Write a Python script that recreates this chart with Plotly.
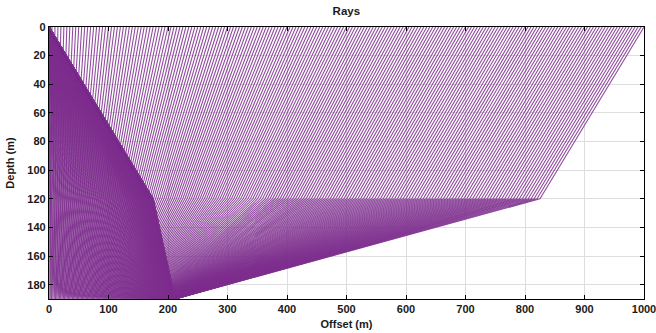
import numpy as np
import plotly.graph_objects as go

# ---- model / data ----
layer_depths = [0, 120, 190]        # surface, interface, reflector (m)
v_down = [1.0, 0.567]               # relative velocity of the downgoing leg in each layer
v_up = [1.0, 1.205]                 # relative velocity of the upgoing leg in each layer
source_x = 0.0                      # source offset (m)
receiver_x = list(range(0, 1001, 5))  # receiver offsets on the surface (m)

x_ticks = list(range(0, 1001, 100))
y_ticks = list(range(0, 181, 20))

RAY_COLOR = "#7E2F8E"

thick = np.diff(layer_depths)


def legs(p):
    dx_down = [h * (p * v) / np.sqrt(1 - (p * v) ** 2) for h, v in zip(thick, v_down)]
    dx_up = [h * (p * v) / np.sqrt(1 - (p * v) ** 2) for h, v in zip(thick[::-1], v_up[::-1])]
    return dx_down, dx_up


def total(p):
    a, b = legs(p)
    return sum(a) + sum(b)


pmax = 1.0 / max(v_down + v_up) * (1 - 1e-12)

fig = go.Figure()
for xr in receiver_x:
    target = xr - source_x
    lo, hi = 0.0, pmax
    for _ in range(100):
        mid = 0.5 * (lo + hi)
        if total(mid) < target:
            lo = mid
        else:
            hi = mid
    p = 0.5 * (lo + hi)
    dd, du = legs(p)
    xs = [source_x]
    for d in dd + du:
        xs.append(xs[-1] + d)
    zs = layer_depths + layer_depths[-2::-1]
    fig.add_trace(go.Scatter(x=xs, y=zs, mode="lines",
                             line=dict(color=RAY_COLOR, width=1.1),
                             opacity=0.85,
                             showlegend=False, hoverinfo="skip"))

font_b = dict(family="Liberation Sans, Arial, sans-serif", size=11, color="#1a1a1a", weight="bold")

fig.update_layout(
    width=656, height=333,
    margin=dict(l=49, r=12, t=27, b=34),
    paper_bgcolor="white", plot_bgcolor="white",
    title=dict(text="Rays", x=0.528, xanchor="center", y=0.966, yanchor="middle",
               font=dict(family="Liberation Sans, Arial, sans-serif", size=11.5, color="#1a1a1a", weight="bold")),
    xaxis=dict(range=[0, 1000], tickvals=x_ticks, ticks="inside", ticklen=4, tickwidth=1,
               tickcolor="black", showline=True, linecolor="black", linewidth=1.3, mirror="ticks",
               showgrid=True, gridcolor="#dedede", gridwidth=1, zeroline=False, automargin=False,
               ticklabeloverflow="allow",
               tickfont=font_b, title=dict(text="Offset (m)", font=font_b, standoff=5)),
    yaxis=dict(range=[190, 0], tickvals=y_ticks, ticks="inside", ticklen=4, tickwidth=1,
               tickcolor="black", showline=True, linecolor="black", linewidth=1.3, mirror="ticks",
               showgrid=True, gridcolor="#dedede", gridwidth=1, zeroline=False, automargin=False,
               ticklabeloverflow="allow",
               tickfont=font_b, title=dict(text="Depth (m)", font=font_b, standoff=10)),
)

fig.write_html("out.html")
